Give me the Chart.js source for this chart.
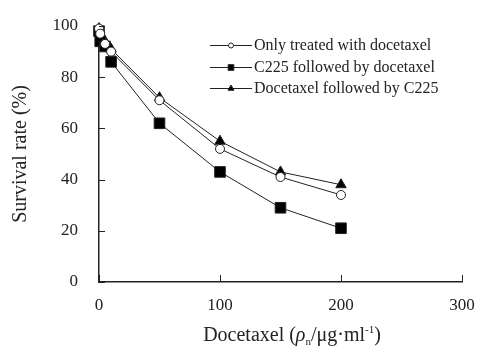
<!DOCTYPE html>
<html lang="en">
<head>
<meta charset="UTF-8">
<title>Survival rate vs docetaxel</title>
<script src="https://cdn.jsdelivr.net/npm/chart.js"></script>
<style>
  html, body { margin: 0; padding: 0; background: #fff; }
  #wrap { position: relative; width: 489px; height: 350px; }
</style>
</head>
<body>
<div id="wrap"><canvas id="chart" width="489" height="350"></canvas></div>
<script>
// doses (x) and survival rates (%)
const doses = [0, 1, 5, 10, 50, 100, 150, 200];
const onlyDocetaxel = [99, 97, 93, 90, 71, 52, 41, 34];
const c225ThenDocetaxel = [98, 94, 92, 86, 62, 43, 29, 21];
const docetaxelThenC225 = [99, 97, 94, 91, 72, 55, 43, 38];
const seriesNames = ['Only treated with docetaxel', 'C225 followed by docetaxel', 'Docetaxel followed by C225'];
const xTicks = [0, 100, 200, 300];
const yTicks = [0, 20, 40, 60, 80, 100];

const FONT = '"Liberation Serif", "Times New Roman", serif';
const INK = '#222';

function toPoints(ys) {
  return doses.map((d, i) => ({ x: d, y: ys[i] }));
}

// small tick marks that point into the plot
const innerTicks = {
  id: 'innerTicks',
  afterDraw(chart) {
    const { ctx, scales: { x, y } } = chart;
    ctx.save();
    ctx.strokeStyle = INK;
    ctx.lineWidth = 1;
    xTicks.forEach(v => {
      const px = Math.round(x.getPixelForValue(v)) + 0.5;
      ctx.beginPath();
      ctx.moveTo(px, y.bottom);
      ctx.lineTo(px, y.bottom - 7);
      ctx.stroke();
    });
    yTicks.forEach(v => {
      const py = Math.round(y.getPixelForValue(v)) + 0.5;
      ctx.beginPath();
      ctx.moveTo(x.left, py);
      ctx.lineTo(x.left + 6, py);
      ctx.stroke();
    });
    ctx.restore();
  }
};

// legend drawn as line + marker samples, like the original figure
const lineLegend = {
  id: 'lineLegend',
  afterDraw(chart) {
    const ctx = chart.ctx;
    const x0 = 210, x1 = 252, rowY = [45, 67, 88];
    ctx.save();
    chart.data.datasets.forEach((ds, i) => {
      const y = rowY[i];
      ctx.strokeStyle = INK;
      ctx.lineWidth = 1;
      ctx.beginPath();
      ctx.moveTo(x0, y + 0.5);
      ctx.lineTo(x1, y + 0.5);
      ctx.stroke();
      ctx.fillStyle = ds.pointBackgroundColor;
      ctx.strokeStyle = INK;
      Chart.helpers.drawPoint(ctx, {
        pointStyle: ds.pointStyle,
        radius: ds.legendRadius,
        borderWidth: 1
      }, (x0 + x1) / 2, y + 0.5);
      ctx.fillStyle = INK;
      ctx.font = '16px ' + FONT;
      ctx.textBaseline = 'middle';
      ctx.textAlign = 'left';
      ctx.fillText(ds.label, x1 + 2, y + 1);
    });
    ctx.restore();
  }
};

// x-axis title with italic rho, subscript n and superscript -1
const xTitle = {
  id: 'xTitle',
  afterDraw(chart) {
    const ctx = chart.ctx;
    const parts = [
      { t: 'Docetaxel (', f: '20px ' + FONT, dy: 0 },
      { t: 'ρ', f: 'italic 20px ' + FONT, dy: 0 },
      { t: 'n', f: '11px ' + FONT, dy: 4 },
      { t: '/μg·ml', f: '20px ' + FONT, dy: 0 },
      { t: '-1', f: '11px ' + FONT, dy: -8 },
      { t: ')', f: '20px ' + FONT, dy: 0 }
    ];
    ctx.save();
    ctx.fillStyle = INK;
    ctx.textBaseline = 'alphabetic';
    let w = 0;
    parts.forEach(p => { ctx.font = p.f; w += ctx.measureText(p.t).width; });
    let cx = 292 - w / 2;
    const base = 341;
    parts.forEach(p => {
      ctx.font = p.f;
      ctx.fillText(p.t, cx, base + p.dy);
      cx += ctx.measureText(p.t).width;
    });
    ctx.restore();
  }
};

const common = {
  showLine: true,
  borderColor: INK,
  borderWidth: 1,
  pointBorderColor: INK,
  pointBorderWidth: 1,
  tension: 0,
  clip: false
};

new Chart(document.getElementById('chart'), {
  type: 'scatter',
  data: {
    datasets: [
      Object.assign({}, common, {
        label: seriesNames[0],
        data: toPoints(onlyDocetaxel),
        pointStyle: 'circle',
        pointRadius: 4.5,
        legendRadius: 2.5,
        pointBackgroundColor: '#fff'
      }),
      Object.assign({}, common, {
        label: seriesNames[1],
        data: toPoints(c225ThenDocetaxel),
        pointStyle: 'rect',
        pointRadius: 7.5,
        legendRadius: 4,
        pointBackgroundColor: '#000'
      }),
      Object.assign({}, common, {
        label: seriesNames[2],
        data: toPoints(docetaxelThenC225),
        pointStyle: 'triangle',
        pointRadius: 6,
        legendRadius: 3.5,
        pointBackgroundColor: '#000'
      })
    ]
  },
  options: {
    responsive: false,
    animation: false,
    layout: { padding: { top: 26, right: 27, left: 0, bottom: 0 } },
    plugins: {
      legend: { display: false },
      tooltip: { enabled: false }
    },
    scales: {
      x: {
        type: 'linear',
        min: 0,
        max: 300,
        afterFit(s) { s.height = 68; s.paddingLeft = 0; s.paddingRight = 0; },
        afterBuildTicks(s) { s.ticks = xTicks.map(v => ({ value: v })); },
        grid: { display: true, drawOnChartArea: false, drawTicks: false },
        border: { display: true, color: INK, width: 1.5 },
        ticks: { color: INK, font: { family: FONT, size: 17 }, padding: 13, maxRotation: 0 }
      },
      y: {
        type: 'linear',
        min: 0,
        max: 100,
        afterFit(s) { s.width = 99; s.paddingTop = 0; s.paddingBottom = 0; },
        afterBuildTicks(s) { s.ticks = yTicks.map(v => ({ value: v })); },
        grid: { display: true, drawOnChartArea: false, drawTicks: false },
        border: { display: true, color: INK, width: 1.5 },
        ticks: { color: INK, font: { family: FONT, size: 17 }, padding: 21 },
        title: {
          display: true,
          text: 'Survival rate (%)',
          color: INK,
          font: { family: FONT, size: 20 },
          padding: { top: 9, bottom: 0 }
        }
      }
    }
  },
  plugins: [innerTicks, lineLegend, xTitle]
});
</script>
</body>
</html>
